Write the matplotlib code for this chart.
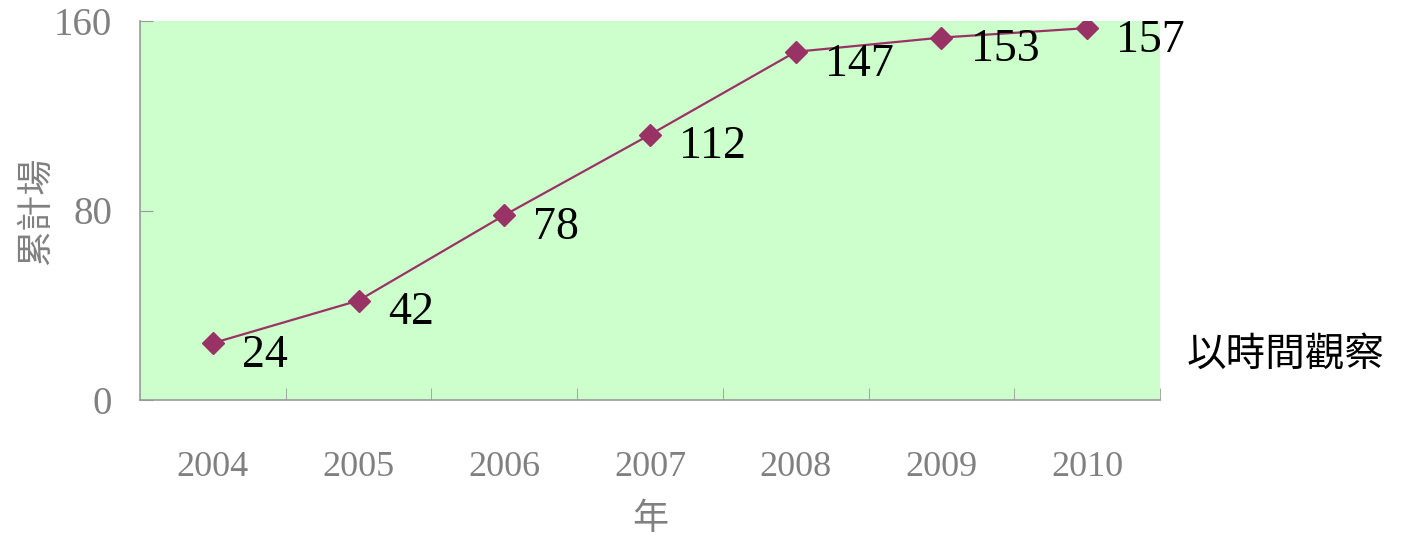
import matplotlib
matplotlib.use("Agg")
import matplotlib.pyplot as plt

years = ["2004", "2005", "2006", "2007", "2008", "2009", "2010"]
totals = [24, 42, 78, 112, 147, 153, 157]
y_ticks = [0, 80, 160]

gray = "#808080"
serif = ["Liberation Serif", "Noto Sans CJK TC"]
cjk = ["Noto Sans CJK TC", "DejaVu Sans"]

fig = plt.figure(figsize=(14.05, 5.36), dpi=100)
ax = fig.add_axes([140 / 1405, 136 / 536, 1020 / 1405, 379 / 536])
ax.set_facecolor("#CCFFCC")

xs = list(range(len(years)))
ax.plot(xs, totals, color="#993366", lw=1.6, marker="D", ms=11,
        mfc="#993366", mec="#993366", zorder=3)
for x, v in zip(xs, totals):
    ax.annotate(str(v), (x, v), xytext=(21, -9), textcoords="offset points",
                ha="left", va="center", fontsize=33, family=serif,
                color="black", annotation_clip=False)

ax.set_xlim(-0.5, len(years) - 0.5)
ax.set_ylim(0, 160)

# category labels centred, tick marks between categories
ax.set_xticks(xs)
ax.set_xticklabels(years, family=serif, fontsize=26, color=gray)
ax.tick_params(axis="x", which="major", length=0, pad=37)
ax.set_xticks([i + 0.5 for i in xs], minor=True)
ax.tick_params(axis="x", which="minor", direction="in", length=9, color="#999999")

ax.set_yticks(y_ticks)
ax.set_yticklabels([str(t) for t in y_ticks], family=serif, fontsize=28, color=gray)
ax.tick_params(axis="y", direction="in", length=9, color="#999999", pad=20)

for s in ["top", "right"]:
    ax.spines[s].set_visible(False)
for s in ["left", "bottom"]:
    ax.spines[s].set_color("#999999")
    ax.spines[s].set_linewidth(1.2)

ax.set_ylabel("累計場", family=cjk, fontsize=26, color=gray, labelpad=0)
ax.set_xlabel("年", family=cjk, fontsize=26, color=gray, labelpad=12)

fig.text(1187 / 1405, 1 - 355 / 536, "以時間觀察", family=cjk, fontsize=28.5,
         color="black", ha="left", va="center")

fig.savefig("out.png", dpi=100)
